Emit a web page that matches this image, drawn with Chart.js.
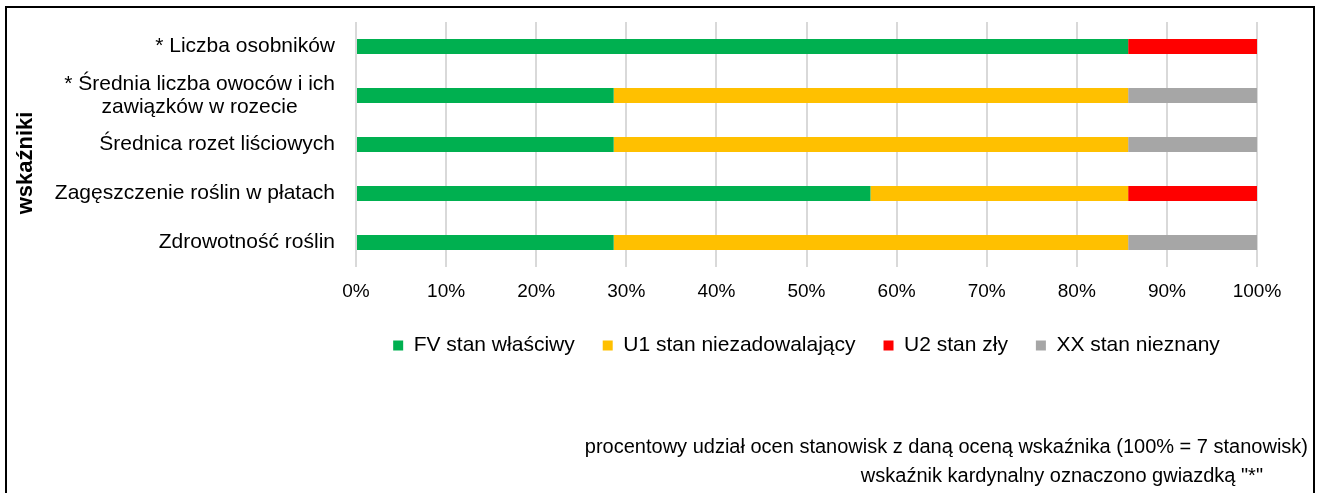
<!DOCTYPE html>
<html lang="pl">
<head>
<meta charset="utf-8">
<title>Ocena wskaźników stanu populacji</title>
<script src="https://cdn.jsdelivr.net/npm/chart.js@4.4.1/dist/chart.umd.min.js"></script>
<style>
  html, body { margin: 0; padding: 0; background: #fff; }
  canvas { display: block; }
</style>
</head>
<body>
<canvas id="wykres" width="1317" height="493"></canvas>
<script>
// wskaźniki (kategorie osi Y)
const wskazniki = [
  '* Liczba osobników',
  ['* Średnia liczba owoców i ich', 'zawiązków w rozecie'],
  'Średnica rozet liściowych',
  'Zagęszczenie roślin w płatach',
  'Zdrowotność roślin'
];

// udział stanowisk (%) z daną oceną, 100% = 7 stanowisk
const fv = [85.7, 28.6, 28.6, 57.1, 28.6];
const u1 = [0, 57.1, 57.1, 28.6, 57.1];
const u2 = [14.3, 0, 0, 14.3, 0];
const xx = [0, 14.3, 14.3, 0, 14.3];

const opisy = ['FV stan właściwy', 'U1 stan niezadowalający', 'U2 stan zły', 'XX stan nieznany'];
const kolory = ['#00b050', '#ffc000', '#ff0000', '#a6a6a6'];

const tytulY = 'wskaźniki';
const przypisy = [
  'procentowy udział ocen stanowisk z daną oceną wskaźnika (100% = 7 stanowisk)',
  'wskaźnik kardynalny oznaczono gwiazdką "*"'
];

const FONT = '"Liberation Sans", Arial, sans-serif';
Chart.defaults.font.family = FONT;
Chart.defaults.font.size = 19;
Chart.defaults.color = '#000';

// ramka wokół wykresu, tytuł osi Y i przypisy pod legendą
const ramka = {
  id: 'ramka',
  afterDraw(chart) {
    const ctx = chart.ctx;
    ctx.save();
    ctx.strokeStyle = '#000';
    ctx.lineWidth = 2;
    ctx.strokeRect(6, 7, 1308, 600);
    ctx.fillStyle = '#000';
    ctx.textBaseline = 'middle';

    ctx.font = '20px ' + FONT;
    ctx.textAlign = 'right';
    ctx.fillText(przypisy[0], 1308, 447);
    ctx.fillText(przypisy[1], 1263, 476);

    ctx.save();
    ctx.translate(26, 163);
    ctx.rotate(-Math.PI / 2);
    ctx.font = 'bold 22px ' + FONT;
    ctx.textAlign = 'center';
    ctx.fillText(tytulY, 0, 0);
    ctx.restore();

    ctx.restore();
  }
};

// etykiety osi Y: blok wyrównany do prawej, wiersze wyśrodkowane
const etykietyY = {
  id: 'etykietyY',
  afterDraw(chart) {
    const ctx = chart.ctx;
    const y = chart.scales.y;
    const prawo = chart.chartArea.left - 21;
    ctx.save();
    ctx.fillStyle = '#000';
    ctx.font = '21px ' + FONT;
    ctx.textAlign = 'center';
    ctx.textBaseline = 'middle';
    wskazniki.forEach((etyk, i) => {
      const wiersze = Array.isArray(etyk) ? etyk : [etyk];
      const szer = Math.max(...wiersze.map(w => ctx.measureText(w).width));
      const sx = prawo - szer / 2;
      const py = y.getPixelForTick(i);
      wiersze.forEach((w, j) => {
        ctx.fillText(w, sx, py + (j - (wiersze.length - 1) / 2) * 23);
      });
    });
    ctx.restore();
  }
};

new Chart(document.getElementById('wykres'), {
  type: 'bar',
  data: {
    labels: wskazniki,
    datasets: [fv, u1, u2, xx].map((d, i) => ({
      label: opisy[i],
      data: d,
      backgroundColor: kolory[i],
      borderWidth: 0,
      categoryPercentage: 1,
      barPercentage: 0.31
    }))
  },
  options: {
    indexAxis: 'y',
    responsive: false,
    animation: false,
    layout: { padding: { top: 22, right: 60, left: 8, bottom: 127 } },
    scales: {
      x: {
        stacked: true,
        min: 0,
        max: 100,
        ticks: { stepSize: 10, padding: 13, callback: v => v + '%' },
        grid: { color: '#d9d9d9', lineWidth: 2, drawTicks: false },
        border: { display: false },
        afterFit: s => { s.height = 40; }
      },
      y: {
        stacked: true,
        ticks: { display: false },
        grid: { display: false },
        border: { display: false },
        afterFit: s => { s.width = 348; }
      }
    },
    plugins: {
      legend: {
        position: 'bottom',
        fullSize: false,
        labels: { boxWidth: 10, boxHeight: 10, padding: 28, color: '#000', font: { size: 21 } }
      },
      tooltip: { enabled: false }
    }
  },
  plugins: [ramka, etykietyY]
});
</script>
</body>
</html>
